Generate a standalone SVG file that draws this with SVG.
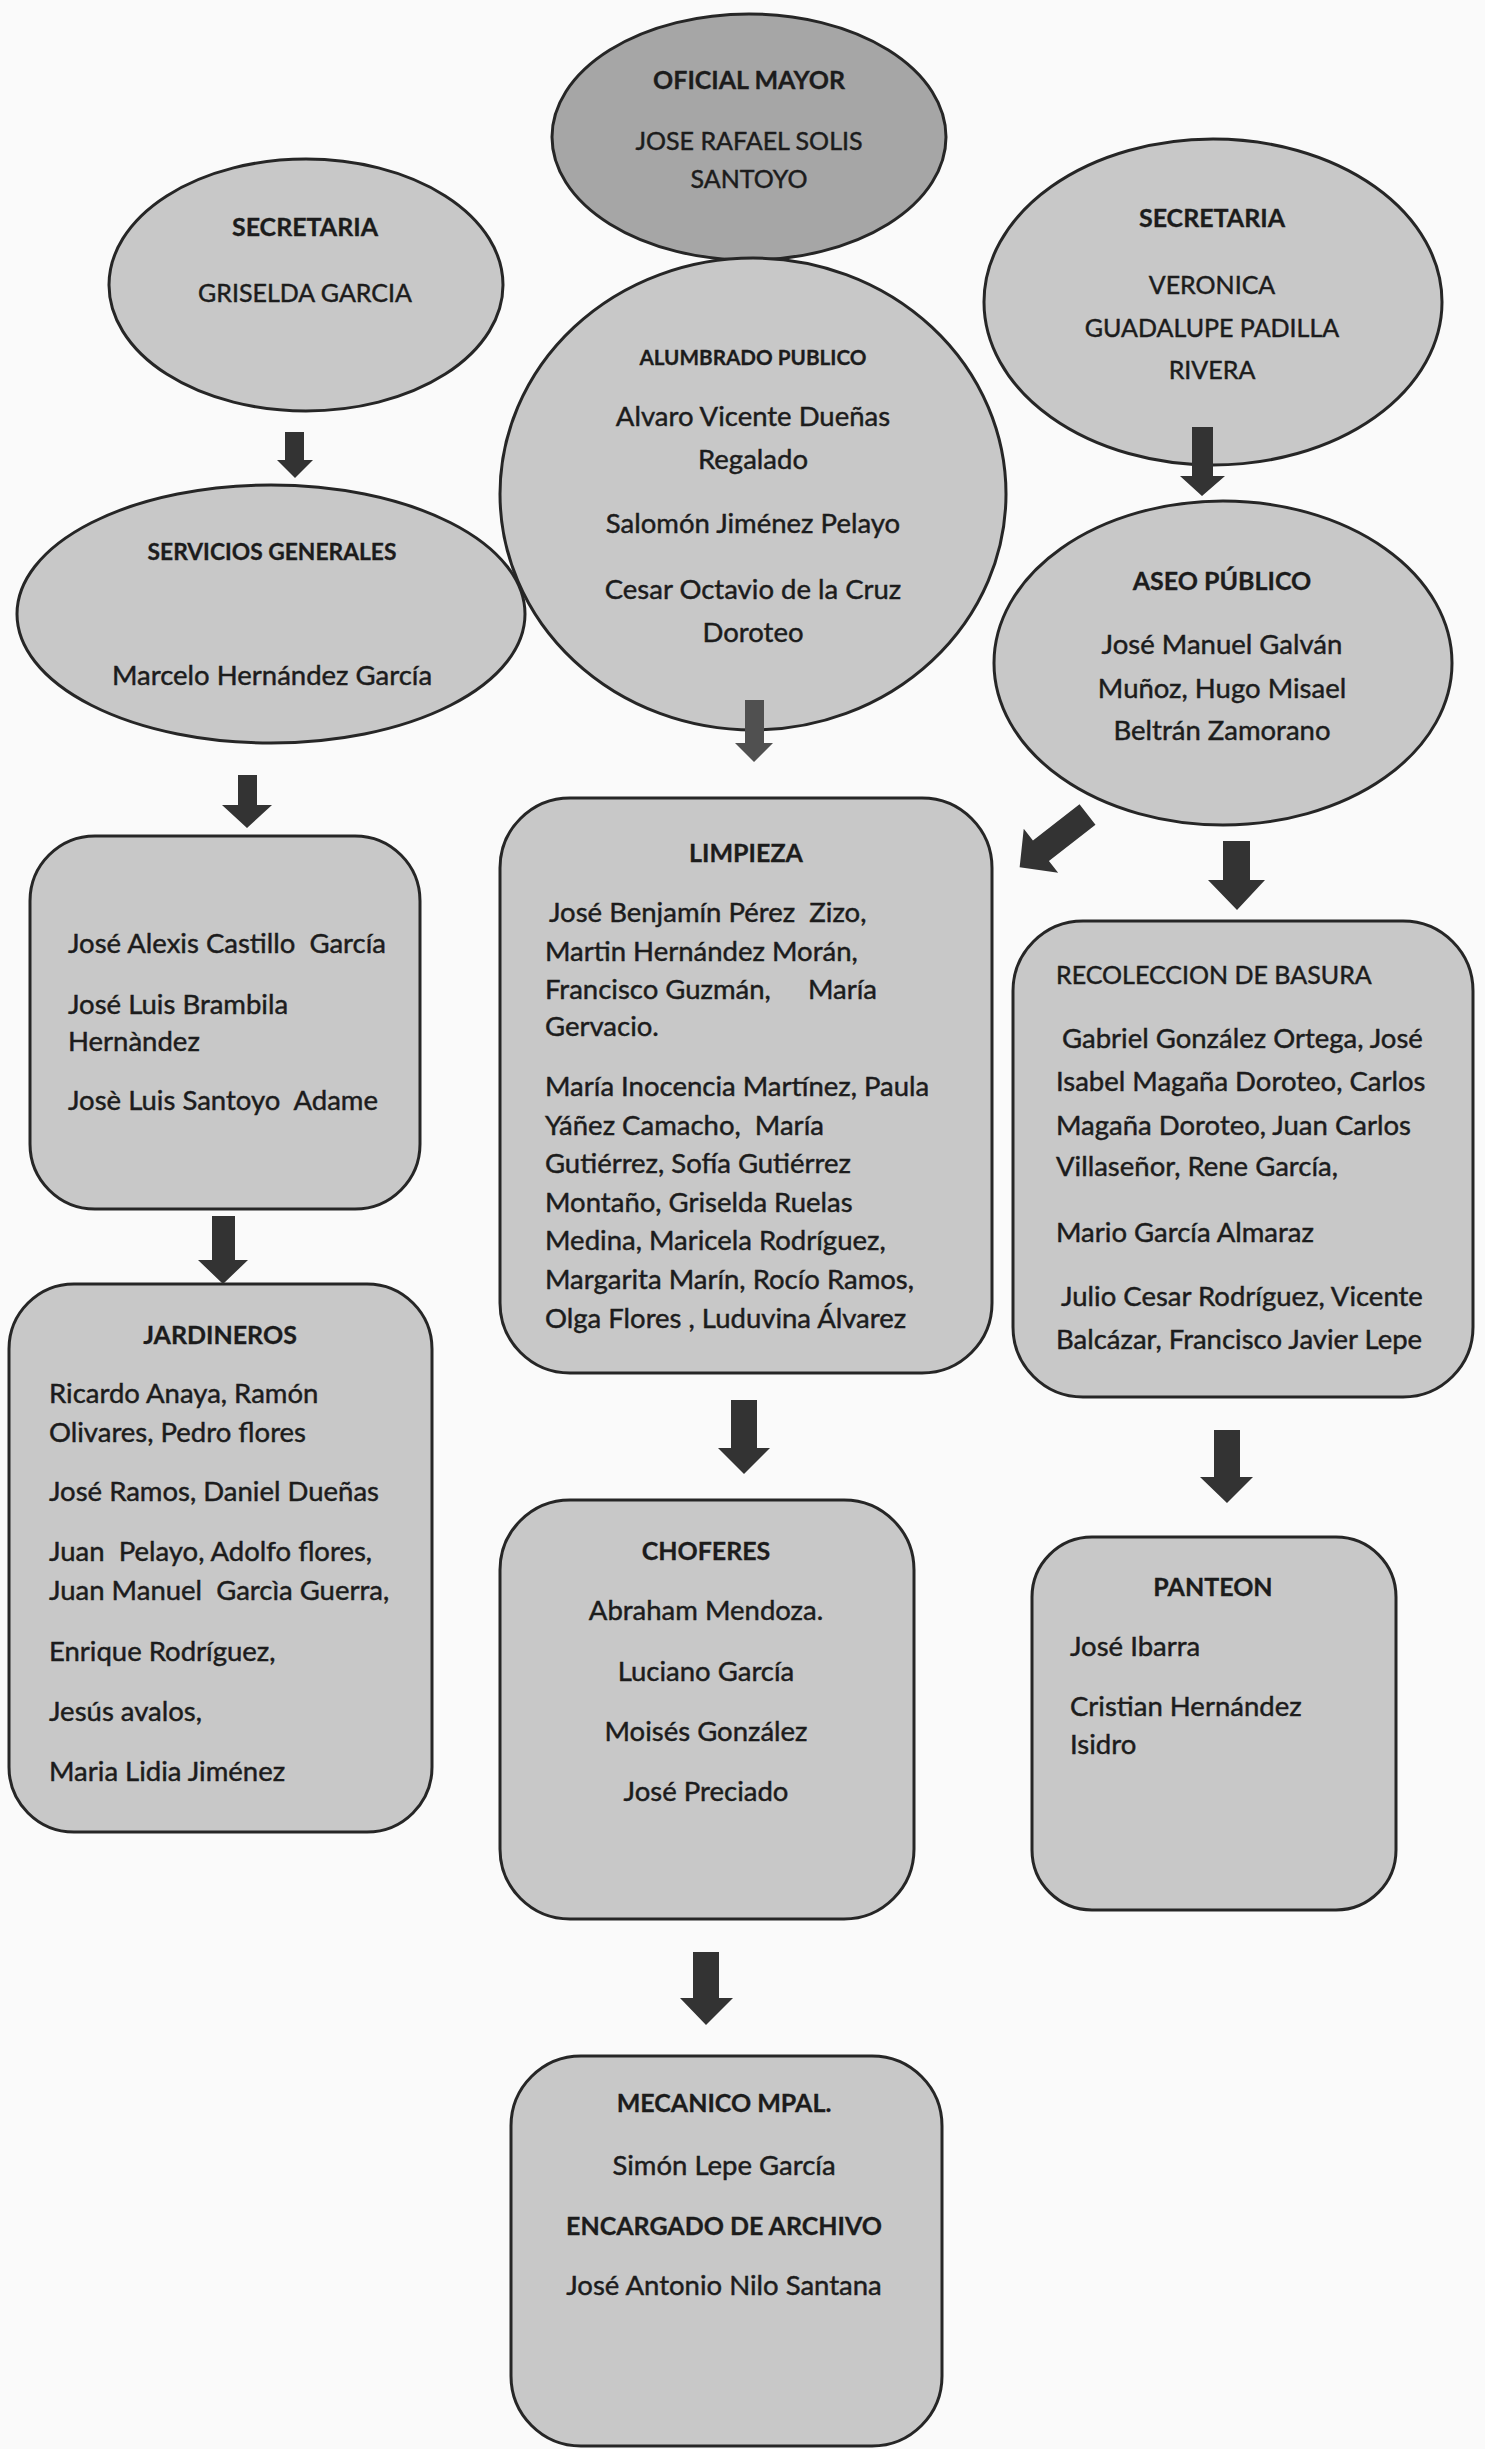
<svg xmlns="http://www.w3.org/2000/svg" width="1485" height="2449" viewBox="0 0 1485 2449">
<style>
.bg{fill:#fafafa}
.node{fill:#c8c8c8;stroke:#262626;stroke-width:3}
.dark{fill:#a6a6a6}
.arrow{fill:#333333}
.arrow2{fill:#505050}
text{font-family:Lato,"Liberation Sans",sans-serif;font-size:27.5px;fill:#1c1c1c;stroke:#1c1c1c;stroke-width:0.45;white-space:pre}
.c{text-anchor:middle}
.e{text-anchor:end}
.b{font-weight:bold;stroke-width:0.3}
.k{font-size:25px}
.s{font-size:20.7px}
.m{font-size:22.8px}
</style>
<rect class="bg" x="0" y="0" width="1485" height="2449"/>

<g id="oficial-mayor">
<ellipse class="node dark" cx="749" cy="137" rx="197" ry="123"/>
<text class="c b k" x="749" y="89">OFICIAL MAYOR</text>
<text class="c k" x="749" y="150">JOSE RAFAEL SOLIS</text>
<text class="c k" x="749" y="188">SANTOYO</text>
</g>

<g id="secretaria-izq">
<ellipse class="node" cx="306" cy="285" rx="197" ry="126"/>
<text class="c b k" x="305" y="236">SECRETARIA</text>
<text class="c k" x="305" y="302">GRISELDA GARCIA</text>
</g>

<g id="secretaria-der">
<ellipse class="node" cx="1213" cy="302" rx="229" ry="163"/>
<text class="c b k" x="1212" y="227">SECRETARIA</text>
<text class="c k" x="1212" y="294">VERONICA</text>
<text class="c k" x="1212" y="337">GUADALUPE PADILLA</text>
<text class="c k" x="1212" y="379">RIVERA</text>
</g>

<g id="servicios-generales">
<ellipse class="node" cx="271" cy="614" rx="254" ry="129"/>
<text class="c b m" x="272" y="560">SERVICIOS GENERALES</text>
<text class="c" x="272" y="685">Marcelo Hernández García</text>
</g>

<g id="alumbrado-publico">
<ellipse class="node" cx="753" cy="494" rx="253" ry="236"/>
<text class="c b s" x="753" y="365">ALUMBRADO PUBLICO</text>
<text class="c" x="753" y="426">Alvaro Vicente Dueñas</text>
<text class="c" x="753" y="469">Regalado</text>
<text class="c" x="753" y="533">Salomón Jiménez Pelayo</text>
<text class="c" x="753" y="599">Cesar Octavio de la Cruz</text>
<text class="c" x="753" y="642">Doroteo</text>
</g>

<g id="aseo-publico">
<ellipse class="node" cx="1223" cy="663" rx="229" ry="162"/>
<text class="c b k" x="1222" y="590">ASEO PÚBLICO</text>
<text class="c" x="1222" y="654">José Manuel Galván</text>
<text class="c" x="1222" y="698">Muñoz, Hugo Misael</text>
<text class="c" x="1222" y="740">Beltrán Zamorano</text>
</g>

<g id="servicios-personal">
<rect class="node" x="30" y="836" width="390" height="373" rx="65" ry="65"/>
<text x="68" y="953">José Alexis Castillo  García</text>
<text x="68" y="1014">José Luis Brambila</text>
<text x="68" y="1051">Hernàndez</text>
<text x="68" y="1110">Josè Luis Santoyo  Adame</text>
</g>

<g id="jardineros">
<rect class="node" x="9" y="1284" width="423" height="548" rx="65" ry="65"/>
<text class="c b k" x="220" y="1344">JARDINEROS</text>
<text x="49" y="1403">Ricardo Anaya, Ramón</text>
<text x="49" y="1442">Olivares, Pedro flores</text>
<text x="49" y="1501">José Ramos, Daniel Dueñas</text>
<text x="49" y="1561">Juan  Pelayo, Adolfo flores,</text>
<text x="49" y="1600">Juan Manuel  Garcìa Guerra,</text>
<text x="49" y="1661">Enrique Rodríguez,</text>
<text x="49" y="1721">Jesús avalos,</text>
<text x="49" y="1781">Maria Lidia Jiménez</text>
</g>

<g id="limpieza">
<rect class="node" x="500" y="798" width="492" height="575" rx="70" ry="70"/>
<text class="c b k" x="746" y="862">LIMPIEZA</text>
<text x="549" y="922">José Benjamín Pérez  Zizo,</text>
<text x="545" y="961">Martin Hernández Morán,</text>
<text x="545" y="999">Francisco Guzmán,</text>
<text class="e" x="877" y="999">María</text>
<text x="545" y="1036">Gervacio.</text>
<text x="545" y="1096">María Inocencia Martínez, Paula</text>
<text x="545" y="1135">Yáñez Camacho,  María</text>
<text x="545" y="1173">Gutiérrez, Sofía Gutiérrez</text>
<text x="545" y="1212">Montaño, Griselda Ruelas</text>
<text x="545" y="1250">Medina, Maricela Rodríguez,</text>
<text x="545" y="1289">Margarita Marín, Rocío Ramos,</text>
<text x="545" y="1328">Olga Flores , Luduvina Álvarez</text>
</g>

<g id="recoleccion-basura">
<rect class="node" x="1013" y="921" width="460" height="476" rx="70" ry="70"/>
<text class="k" x="1056" y="984">RECOLECCION DE BASURA</text>
<text x="1062" y="1048">Gabriel González Ortega, José</text>
<text x="1056" y="1091">Isabel Magaña Doroteo, Carlos</text>
<text x="1056" y="1135">Magaña Doroteo, Juan Carlos</text>
<text x="1056" y="1176">Villaseñor, Rene García,</text>
<text x="1056" y="1242">Mario García Almaraz</text>
<text x="1061" y="1306">Julio Cesar Rodríguez, Vicente</text>
<text x="1056" y="1349">Balcázar, Francisco Javier Lepe</text>
</g>

<g id="choferes">
<rect class="node" x="500" y="1500" width="414" height="419" rx="70" ry="70"/>
<text class="c b k" x="706" y="1560">CHOFERES</text>
<text class="c" x="706" y="1620">Abraham Mendoza.</text>
<text class="c" x="706" y="1681">Luciano García</text>
<text class="c" x="706" y="1741">Moisés González</text>
<text class="c" x="706" y="1801">José Preciado</text>
</g>

<g id="panteon">
<rect class="node" x="1032" y="1537" width="364" height="373" rx="60" ry="60"/>
<text class="c b k" x="1213" y="1596">PANTEON</text>
<text x="1070" y="1656">José Ibarra</text>
<text x="1070" y="1716">Cristian Hernández</text>
<text x="1070" y="1754">Isidro</text>
</g>

<g id="mecanico">
<rect class="node" x="511" y="2056" width="431" height="390" rx="70" ry="70"/>
<text class="c b k" x="724" y="2112">MECANICO MPAL.</text>
<text class="c" x="724" y="2175">Simón Lepe García</text>
<text class="c b k" x="724" y="2235">ENCARGADO DE ARCHIVO</text>
<text class="c" x="724" y="2295">José Antonio Nilo Santana</text>
</g>

<g id="connectors">
<polygon class="arrow" points="285,432 304,432 304,460 313,460 295,478 277,460 285,460"/>
<polygon class="arrow" points="1192,427 1213,427 1213,476 1225,476 1202,496 1180,476 1192,476"/>
<polygon class="arrow2" points="745,700 764,700 764,743 773,743 754,762 735,743 745,743"/>
<polygon class="arrow" points="238,775 257,775 257,805 272,805 247,828 222,805 238,805"/>
<polygon class="arrow" points="212,1216 235,1216 235,1260 248,1260 223,1284 198,1260 212,1260"/>
<polygon class="arrow" transform="translate(1087.5,814.5) rotate(142.1)" points="0,-13 59,-13 59,-28 86,0 59,28 59,13 0,13"/>
<polygon class="arrow" points="1223,841 1250,841 1250,880 1265,880 1237,910 1208,880 1223,880"/>
<polygon class="arrow" points="731,1400 757,1400 757,1448 770,1448 744,1474 718,1448 731,1448"/>
<polygon class="arrow" points="1214,1430 1240,1430 1240,1477 1253,1477 1227,1503 1200,1477 1214,1477"/>
<polygon class="arrow" points="693,1952 719,1952 719,1998 733,1998 706,2025 680,1998 693,1998"/>
</g>
</svg>
